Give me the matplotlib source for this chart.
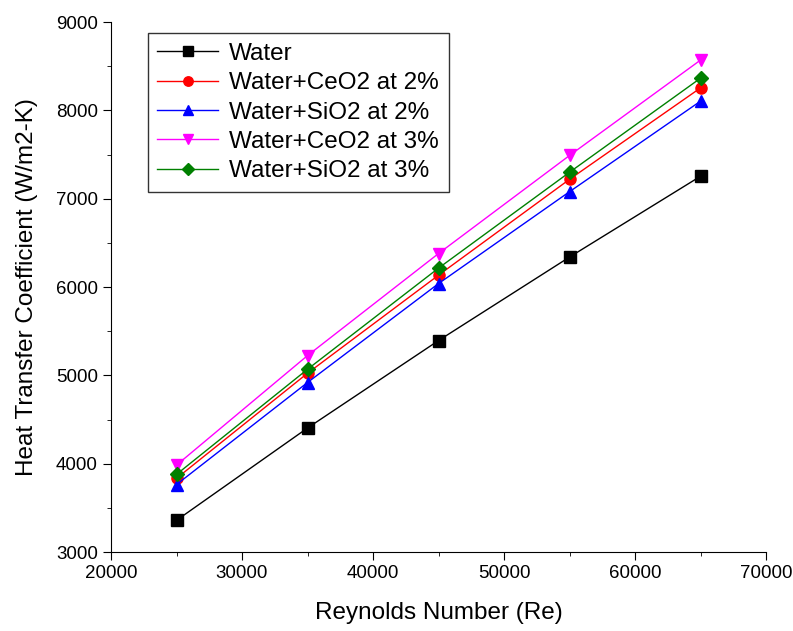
import matplotlib
matplotlib.use('Agg')
import matplotlib.pyplot as plt
from matplotlib.ticker import MultipleLocator

plt.rcParams['font.family'] = ['Liberation Sans', 'DejaVu Sans']

reynolds = [25000, 35000, 45000, 55000, 65000]
water = [3360, 4405, 5395, 6340, 7255]
ceo2_2 = [3835, 5025, 6135, 7220, 8255]
sio2_2 = [3765, 4920, 6040, 7080, 8105]
ceo2_3 = [3985, 5225, 6380, 7490, 8570]
sio2_3 = [3880, 5070, 6215, 7300, 8365]

series = [
    ('Water', water, 'black', 's'),
    ('Water+CeO2 at 2%', ceo2_2, 'red', 'o'),
    ('Water+SiO2 at 2%', sio2_2, 'blue', '^'),
    ('Water+CeO2 at 3%', ceo2_3, 'magenta', 'v'),
    ('Water+SiO2 at 3%', sio2_3, 'green', 'D'),
]

fig = plt.figure(figsize=(7.93, 6.31), dpi=100)
ax = fig.add_axes([0.14, 0.125, 0.826, 0.84])

for label, vals, color, marker in series:
    ms = 7 if marker == 'D' else 8
    ax.plot(reynolds, vals, color=color, marker=marker, markersize=ms,
            linewidth=1, label=label)

ax.set_xlim(20000, 70000)
ax.set_ylim(3000, 9000)
ax.xaxis.set_major_locator(MultipleLocator(10000))
ax.xaxis.set_minor_locator(MultipleLocator(5000))
ax.yaxis.set_major_locator(MultipleLocator(1000))
ax.yaxis.set_minor_locator(MultipleLocator(500))
ax.spines['top'].set_visible(False)
ax.spines['right'].set_visible(False)
ax.tick_params(which='major', direction='out', length=6, labelsize=13.5)
ax.tick_params(which='minor', direction='out', length=3)

ax.set_xlabel('Reynolds Number (Re)', fontsize=17.5, labelpad=14)
ax.set_ylabel('Heat Transfer Coefficient (W/m2-K)', fontsize=17.5, labelpad=13)

leg = ax.legend(loc='upper left', bbox_to_anchor=(0.056, 0.979), fontsize=17.5,
                frameon=True, fancybox=False, edgecolor='black',
                handlelength=2.5, handletextpad=0.45, labelspacing=0.3,
                borderpad=0.4, borderaxespad=0, markerscale=0.85)
leg.get_frame().set_linewidth(1)

plt.savefig('out.png', dpi=100)
